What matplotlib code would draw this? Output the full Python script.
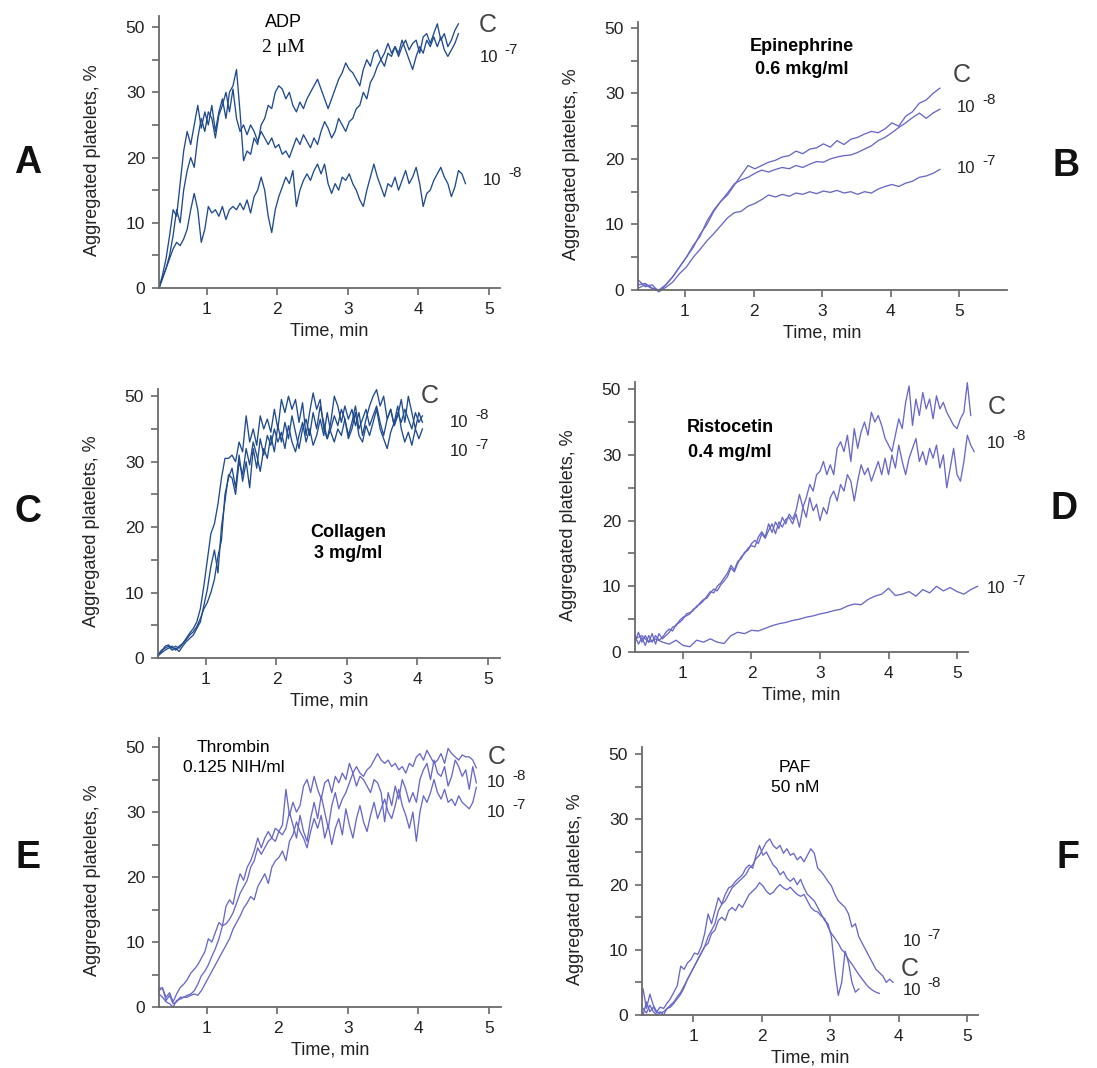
import numpy as np
import matplotlib
matplotlib.use("Agg")
import matplotlib.pyplot as plt

plt.rcParams['font.family'] = ['Liberation Sans', 'DejaVu Sans']

# axis ticks as printed in the original (the 40 gridline is labelled "50")
ytick_pos = [0, 10, 20, 30, 40]
ytick_lab = ['0', '10', '20', '30', '50']
ytick_minor = [5, 15, 25, 35]
xtick_pos = [1, 2, 3, 4, 5]

# ---- A: ADP 2 uM (t0 = 0.32 min, step 0.05 min) ----
adp_c = [0, 2, 4.5, 8, 12, 11, 16, 21, 24, 22,
         25, 28, 24.5, 27, 25, 28, 24, 27, 29, 26,
         30, 31, 33.5, 27, 19.5, 21, 20.5, 23, 22, 25,
         26, 28, 27.5, 30, 31, 30.5, 29, 30, 28, 27,
         28.5, 27.5, 29, 30, 31, 32, 30.5, 29, 27.5, 29,
         30.5, 32, 33, 34.5, 33.5, 33, 32, 31, 33.5, 35,
         34, 36, 36.5, 35, 36, 37.5, 36, 37, 35.5, 37,
         38, 36.5, 37.5, 38, 36, 38.5, 39, 37.5, 39, 40.5,
         38, 39, 37, 38, 39.5, 40.5]
adp_7 = [0, 1.5, 3, 5, 8, 12, 10, 15, 18, 20,
         18.5, 23, 26, 24, 27, 26, 23, 26.5, 28, 30,
         27, 30.5, 26, 24, 25, 23.5, 25, 24, 22.5, 24,
         23, 22, 23, 21.5, 22, 20.5, 21, 20, 21.5, 23,
         22, 23.5, 22.5, 21.5, 23, 22, 24, 25.5, 24.5, 23,
         24, 26, 25, 24, 25.5, 26, 27.5, 28, 30, 29,
         31.5, 32.5, 34, 35, 34, 36, 35.5, 37, 36, 38,
         36.5, 35, 33.5, 35.5, 37, 36, 38, 37, 38.5, 37,
         38.5, 36.5, 35.5, 36.5, 37.5, 39]
adp_8 = [0, 1.5, 3, 4.5, 6, 7, 6.5, 7.5, 9, 12,
         14.5, 12, 7, 9, 12.5, 11.5, 12, 11, 12.5, 10.5,
         12, 12.5, 12, 13, 12, 13.5, 11.5, 14, 15, 17,
         15, 11, 8.5, 12, 14, 15.5, 17, 16, 18, 12.5,
         15, 16.5, 17.5, 16.5, 18, 19, 17.5, 19, 16, 14.5,
         16, 15, 17, 16.5, 17.5, 16, 15, 13.5, 12.5, 15,
         17, 19, 17, 15.5, 14, 16, 15.5, 17, 15, 16.5,
         18, 16, 17, 18.5, 16, 12.5, 14.5, 15, 16.5, 17.5,
         18.5, 17, 16, 14, 15.5, 18, 17.5, 16]

# ---- B: Epinephrine (t0 = 0.32, step 0.1) ----
epi_c = [1.5, 0.5, 0.8, -0.3, 0.8, 2, 3.5, 5, 6.5, 8.5,
         10, 12, 13.5, 14.5, 16, 17.5, 19, 18.5, 19, 19.5,
         19.8, 20.3, 20.5, 21.2, 20.8, 21.5, 21.7, 22.3, 21.8, 22.8,
         22.2, 23, 23.3, 23.8, 24.2, 24, 24.6, 25.5, 25, 26.5,
         27.2, 28.5, 29, 30, 30.8]
epi_8 = [0.8, 1, 0.3, 0, 0.8, 2, 3.5, 5, 6.8, 8.2,
         10.5, 12.2, 13.5, 14.8, 16.2, 16.8, 17.2, 17.8, 18.3, 18,
         18.4, 18.7, 18.5, 19, 18.7, 19.2, 19.6, 19.5, 20, 20.3,
         20.5, 20.6, 21, 21.5, 22, 22.8, 23.3, 24, 24.8, 25.5,
         26.3, 27, 26.2, 27, 27.6]
epi_7 = [0.3, 0.8, 0.2, -0.2, 0.4, 1.2, 2.5, 3.5, 5, 6.2,
         7.5, 8.6, 9.8, 11, 11.8, 12, 12.8, 13.2, 13.8, 14.5,
         14.2, 14.6, 14.3, 14.8, 14.6, 15, 14.7, 15.1, 14.9, 15.2,
         14.8, 15, 14.6, 15, 14.8, 15.4, 15.8, 16.1, 15.8, 16.3,
         16.6, 17.2, 17.4, 17.8, 18.4]

# ---- C: Collagen (t0 = 0.32, step 0.05) ----
col_c = [0.5, 1, 1.8, 2, 1.5, 1.8, 1.5, 2.2, 3, 3.8,
         4.5, 5.5, 7.5, 11, 15, 19, 20.5, 23.5, 27.5, 30.5,
         30.5, 31, 30, 33, 31.5, 37, 33, 35, 32.5, 37,
         35, 36.5, 34.5, 38, 35, 39.5, 37.5, 40, 38, 39.5,
         36, 39, 34, 37.5, 40.5, 38, 39.5, 35, 33.5, 36,
         40, 38.5, 36, 38.5, 36.5, 38, 35.5, 37.5, 34, 36.5,
         38.5, 40, 41, 38.5, 40, 36.5, 38, 35.5, 37, 39.5,
         36, 40, 37.5, 35, 37.5, 36]
col_8 = [0.5, 1.2, 1.5, 1.8, 1.2, 1.5, 1, 1.8, 2.5, 3,
         3.5, 4.5, 5.5, 8, 10.5, 14, 16.5, 13, 20, 24,
         28, 27.5, 25, 30, 28, 32, 29.5, 33, 31, 28.5,
         32, 30.5, 34, 31.5, 35.5, 33, 36, 33.5, 37, 34.5,
         32, 35, 36.5, 34, 37.5, 35, 38.5, 36, 33.5, 35,
         37, 35.5, 38, 36.5, 34, 36, 38.5, 35, 36.5, 38,
         35.5, 37, 38.5, 36, 34, 36.5, 38, 35.5, 37.5, 36,
         38, 36.5, 35, 37.5, 36, 37]
col_7 = [0.3, 0.8, 1.2, 1.5, 1.8, 1.2, 1.8, 2.2, 2.8, 3.5,
         4, 4.8, 6, 7.5, 8.5, 10, 12, 15.5, 18, 25,
         27.5, 29, 26, 31, 27, 30, 26, 32, 29, 33.5,
         31, 34, 32.5, 35, 33, 34.5, 32, 35.5, 33, 31.5,
         34, 36, 33, 35, 32.5, 34, 36.5, 34, 37.5, 34.5,
         33, 35, 34, 36.5, 33.5, 35, 37.5, 34, 33, 35.5,
         34, 36, 38, 35, 33.5, 32, 34.5, 36, 38.5, 35,
         33, 34.5, 32.5, 35, 33.5, 35]

# ---- D: Ristocetin (t0 = 0.30, step 0.05; 10^-7 step 0.1) ----
ris_c = [1.5, 3, 1.5, 2.5, 1.5, 2.8, 1.2, 2.8, 2, 2.5,
         3, 3.8, 4, 4.8, 5.3, 5.5, 5.8, 6.5, 6.8, 7.5,
         8, 8.2, 9, 9.6, 9.3, 10.2, 10.8, 11.5, 12.8, 12.2,
         13.5, 14.5, 15, 15.8, 16.2, 16, 17.5, 18.3, 17.5, 19.5,
         18.2, 19.8, 18.8, 20.5, 19.5, 21, 20.2, 21.5, 24, 22,
         23.5, 25.5, 24.5, 27, 27.5, 29, 27, 28.5, 27, 31,
         32, 30.5, 33, 29, 34, 31, 33.5, 35, 33, 36.5,
         35, 36, 34.5, 32.5, 31.5, 30.5, 33, 35.5, 34, 38,
         40.5, 34.5, 38.5, 36, 39.5, 37, 38.5, 35.5, 39, 37,
         38, 36.5, 35.5, 34.5, 34, 35.5, 36.5, 41, 36]
ris_8 = [2.5, 1.2, 2.2, 1, 2.5, 1.5, 2.5, 1.8, 2.2, 3,
         3.5, 3.2, 4.2, 4.5, 5, 5.8, 6, 6.3, 7, 7.3,
         7.8, 8.5, 9.2, 9, 10, 10.5, 11.3, 12, 13.2, 12.5,
         13.8, 14.2, 15.2, 15.5, 16.5, 17, 16.5, 18, 17.3, 18.5,
         19.5, 18, 19.8, 19, 20.2, 20.5, 19.5, 21, 19, 22,
         20.5, 23.5, 21.5, 22.5, 20, 22, 21, 23.5, 24.5, 23,
         25.5, 24.5, 27, 26, 23, 26, 28.5, 27, 28, 26,
         27.5, 29, 27, 29.5, 27, 30, 28, 31.5, 29, 27,
         29.5, 31, 32.5, 29, 30.5, 28.5, 31, 29.5, 31.5, 28,
         30, 25, 28, 31, 27, 26, 29, 33, 31.5, 30.5]
ris_7 = [2, 2.5, 1.5, 2, 1.5, 1.2, 1.8, 1, 0.8, 1.8,
         1.5, 2, 1.5, 1.3, 2.5, 3, 2.8, 3.3, 3.2, 3.6,
         4, 4.3, 4.5, 4.8, 5, 5.3, 5.5, 5.8, 6, 6.3,
         6.5, 7, 7.3, 7.2, 8, 8.5, 8.8, 9.7, 8.6, 8.8,
         9.2, 8.5, 9.5, 9, 10, 9.3, 9.8, 9.2, 8.8, 9.5, 10]

# ---- E: Thrombin (t0 = 0.32, step 0.05) ----
thr_c = [3, 2.8, 1.5, 2.2, 0.8, 2, 3, 3.5, 4.2, 5.2,
         5.8, 6.5, 7.5, 8.5, 10.5, 10, 11.5, 13, 12.5, 15.5,
         16.5, 15.8, 18.5, 20.5, 19.5, 21.5, 22.5, 24, 26, 24.5,
         26, 27, 26, 27.5, 27, 28, 33.5, 29.5, 31.5, 30,
         31, 34, 35, 33, 35.5, 33.5, 32, 34.5, 35, 33,
         35.5, 34.5, 36, 35, 37.5, 36, 37, 36, 35.5, 36.5,
         37, 38, 39, 38, 37.5, 38, 37, 37.5, 36.5, 37,
         36, 37.5, 37, 38.5, 39, 38, 39.5, 38.5, 37.5, 38,
         39, 37.5, 39.8, 39, 38.5, 38, 38.8, 38.5, 38.5, 38, 36.8]
thr_8 = [2.5, 3, 1, 1.8, 0.5, 0.8, 1.5, 1.5, 1.8, 2,
         2.5, 3.5, 4.8, 5.5, 6.5, 7.8, 9, 10.5, 12.5, 12.8,
         13.5, 14.5, 16, 17.5, 18.5, 19.5, 21.5, 22.5, 24.5, 23.5,
         24.5, 25.5, 26, 25.5, 27, 26.5, 27.5, 30, 28, 26,
         29.5, 27, 25.5, 29, 31.5, 29, 32.5, 30, 27.5, 31,
         33, 30.5, 32, 33, 34.5, 36, 34, 35.5, 35, 34,
         33, 35, 34.5, 33, 28.5, 33, 31, 34, 32, 35,
         33.5, 31.5, 33, 31.5, 35, 36.5, 37.5, 35, 38, 36,
         35.5, 37, 34, 35.5, 38, 37, 35.5, 36.5, 33.5, 37, 34.5]
thr_7 = [2, 1.5, 0.8, 0.5, 0, 1, 1.2, 1.5, 1.5, 1.8,
         2, 1.8, 2.5, 3.5, 4.5, 5.5, 6.5, 7.5, 8.5, 9.5,
         10.5, 12, 13, 14, 15.2, 16, 17, 16.5, 18.5, 19.5,
         20.5, 19, 21.5, 22.5, 23, 24, 22.5, 25.5, 26.5, 28.5,
         27, 26, 24.5, 27, 29, 27.5, 29.5, 26, 28, 25,
         27.5, 29, 26.5, 30.5, 28, 26, 29, 31, 28.5, 27,
         29.5, 31.5, 29, 30.5, 32, 30, 29, 31, 33.5, 31,
         29.5, 27.5, 30, 25.5, 30, 32.5, 31.5, 33, 35, 33,
         32, 33.5, 31.5, 32, 31, 32.5, 31.5, 31, 30.5, 31.5, 33.8]

# ---- F: PAF (t0 = 0.27, step 0.05) ----
paf_c = [0, 2, 0.5, 1.2, 0.3, 0.5, 0, 1, 1.5, 2,
         2.8, 3.5, 4.5, 5.5, 6.5, 7.5, 8.5, 9.5, 10.5, 12,
         13, 14, 16, 17, 17.5, 18.5, 19.5, 20, 20.5, 21,
         21.5, 22.5, 23, 24, 24.5, 25.5, 26.5, 27, 26, 25.5,
         26, 24.8, 25.5, 24.5, 24.8, 23.8, 24.3, 23.5, 24.5, 25.5,
         24.8, 22.5, 22, 21.3, 20.5, 19.8, 18.5, 17.5, 17, 16.5,
         15.5, 13.5, 14, 12, 11, 10, 9, 8, 7, 6.5,
         6, 5, 5.5, 5]
paf_7 = [4, 1, 3.2, 1.5, 0.5, 1.2, 1, 1.8, 2.5, 3.5,
         4.5, 7.5, 7, 8, 8.5, 9.5, 9.3, 10.5, 12.5, 15.5,
         14, 16, 18, 17, 18.5, 19.5, 19.8, 20.5, 21, 21.5,
         22.5, 23, 22.5, 24.5, 26, 24.5, 25, 24, 23, 22.5,
         21.5, 22, 21, 20.5, 21, 20, 20.8, 19.5, 18.5, 18,
         17.5, 16.5, 15.5, 14.5, 14, 12, 7, 3, 5, 9.8,
         8, 5, 3.5, 4]
paf_8 = [1, 0.3, 1.5, 0.5, 0, 0.3, 0.5, 1, 1.2, 1.8,
         2.5, 3.2, 4.2, 5.5, 6.5, 7.5, 8.5, 9.5, 10.5, 11,
         12.5, 13, 14.5, 15, 14.5, 16, 16.5, 16, 17, 16.5,
         17.5, 18.5, 19, 19.5, 20.3, 19.8, 19, 18.5, 18.8, 19.5,
         20, 19.5, 19.2, 19.6, 19, 18.5, 18.2, 18.5, 17.5, 16.5,
         16, 15.8, 15.2, 14.8, 13.5, 12.5, 11.8, 11, 10, 9.5,
         8.5, 7.8, 7, 6.2, 5.5, 4.8, 4.2, 3.8, 3.5, 3.3]


W, H = 1097, 1068
DARK = '#1f4b8e'
LIGHT = '#6868c8'
AXC = '#6a6a6a'
TXT = '#222222'

fig = plt.figure(figsize=(W / 100, H / 100), dpi=100)


def make_axes(box, xlim, ytop):
    # box = (left, top, right, bottom) in pixels
    l, t, r, b = box
    ax = fig.add_axes([l / W, 1 - b / H, (r - l) / W, (b - t) / H])
    ax.patch.set_alpha(0)
    ax.set_xlim(*xlim)
    ax.set_ylim(0, ytop)
    for s in ['top', 'right']:
        ax.spines[s].set_visible(False)
    for s in ['left', 'bottom']:
        ax.spines[s].set_color(AXC)
        ax.spines[s].set_linewidth(1.3)
    ax.set_xticks(xtick_pos)
    ax.set_yticks(ytick_pos)
    ax.set_yticklabels(ytick_lab)
    ax.set_yticks(ytick_minor, minor=True)
    ax.tick_params(which='both', direction='out', color=AXC, width=1.2,
                   length=5, labelsize=12.5, labelcolor=TXT, pad=5)
    ax.set_xlabel('Time, min', fontsize=13, color=TXT, labelpad=4)
    ax.set_ylabel('Aggregated platelets, %', fontsize=13, color=TXT)
    ax.yaxis.set_label_coords(-58 / (r - l), 0.47)
    return ax


def trace(ax, t0, dt, vals, color):
    x = t0 + dt * np.arange(len(vals))
    ax.plot(x, vals, color=color, lw=0.95, clip_on=False)


def tag(ax, x, y, exp=None):
    if exp is None:
        ax.text(x, y, 'C', fontsize=18, color='#444444', ha='center', va='center')
    else:
        ax.text(x, y, '10', fontsize=12, color=TXT, ha='left', va='center')
        ax.annotate(exp, (x, y), xytext=(18, 5), textcoords='offset points',
                    fontsize=11, color=TXT, ha='left', va='center',
                    annotation_clip=False)


# A
ax = make_axes((159, 16, 500, 288), (0.32, 5.16), 41.7)
trace(ax, 0.32, 0.05, adp_c, DARK)
trace(ax, 0.32, 0.05, adp_7, DARK)
trace(ax, 0.32, 0.05, adp_8, DARK)
ax.text(2.08, 40.7, 'ADP', fontsize=13, ha='center', va='center')
ax.text(2.08, 36.9, '2 \u03bcM', fontsize=14, ha='center', va='center',
        family=['Liberation Serif', 'DejaVu Serif'])
tag(ax, 4.99, 40.3)
tag(ax, 4.87, 35.4, '-7')
tag(ax, 4.92, 16.5, '-8')

# B
ax = make_axes((638, 22, 1007, 290), (0.314, 5.70), 40.9)
trace(ax, 0.32, 0.1, epi_c, LIGHT)
trace(ax, 0.32, 0.1, epi_8, LIGHT)
trace(ax, 0.32, 0.1, epi_7, LIGHT)
ax.text(2.71, 37.1, 'Epinephrine', fontsize=13, ha='center', va='center', fontweight='bold')
ax.text(2.71, 33.6, '0.6 mkg/ml', fontsize=13, ha='center', va='center', fontweight='bold')
tag(ax, 5.04, 32.8)
tag(ax, 4.97, 27.9, '-8')
tag(ax, 4.97, 18.6, '-7')

# C
ax = make_axes((158, 389, 500, 658), (0.32, 5.17), 41.1)
trace(ax, 0.32, 0.05, col_c, DARK)
trace(ax, 0.32, 0.05, col_8, DARK)
trace(ax, 0.32, 0.05, col_7, DARK)
ax.text(3.02, 19.2, 'Collagen', fontsize=13, ha='center', va='center', fontweight='bold')
ax.text(3.02, 16.0, '3 mg/ml', fontsize=13, ha='center', va='center', fontweight='bold')
tag(ax, 4.17, 40.0)
tag(ax, 4.46, 36.0, '-8')
tag(ax, 4.46, 31.5, '-7')

# D
ax = make_axes((635, 382, 968, 652), (0.30, 5.16), 41.1)
trace(ax, 0.30, 0.05, ris_c, LIGHT)
trace(ax, 0.30, 0.05, ris_8, LIGHT)
trace(ax, 0.30, 0.1, ris_7, LIGHT)
ax.text(1.69, 34.1, 'Ristocetin', fontsize=13, ha='center', va='center', fontweight='bold')
ax.text(1.69, 30.4, '0.4 mg/ml', fontsize=13, ha='center', va='center', fontweight='bold')
tag(ax, 5.58, 37.3)
tag(ax, 5.44, 31.8, '-8')
tag(ax, 5.44, 9.7, '-7')

# E
ax = make_axes((159, 738, 501, 1007), (0.32, 5.17), 41.4)
trace(ax, 0.32, 0.05, thr_c, LIGHT)
trace(ax, 0.32, 0.05, thr_8, LIGHT)
trace(ax, 0.32, 0.05, thr_7, LIGHT)
ax.text(1.38, 40.0, 'Thrombin', fontsize=12.5, ha='center', va='center')
ax.text(1.38, 36.8, '0.125 NIH/ml', fontsize=12.5, ha='center', va='center')
tag(ax, 5.11, 38.5)
tag(ax, 4.97, 34.5, '-8')
tag(ax, 4.97, 30.0, '-7')

# F
ax = make_axes((642, 747, 978, 1015), (0.255, 5.16), 41.1)
trace(ax, 0.27, 0.05, paf_c, LIGHT)
trace(ax, 0.27, 0.05, paf_7, LIGHT)
trace(ax, 0.27, 0.05, paf_8, LIGHT)
ax.text(2.49, 38.0, 'PAF', fontsize=12.5, ha='center', va='center')
ax.text(2.49, 34.9, '50 nM', fontsize=12.5, ha='center', va='center')
tag(ax, 4.17, 7.0)
tag(ax, 4.06, 11.2, '-7')
tag(ax, 4.06, 3.8, '-8')

# panel letters
for letter, px, py in [('A', 28, 163), ('B', 1066, 166), ('C', 28, 512),
                       ('D', 1064, 509), ('E', 28, 858), ('F', 1068, 858)]:
    fig.text(px / W, 1 - py / H, letter, fontsize=27, fontweight='bold',
             ha='center', va='center', color='#111111')

fig.savefig('out.png', dpi=100)
